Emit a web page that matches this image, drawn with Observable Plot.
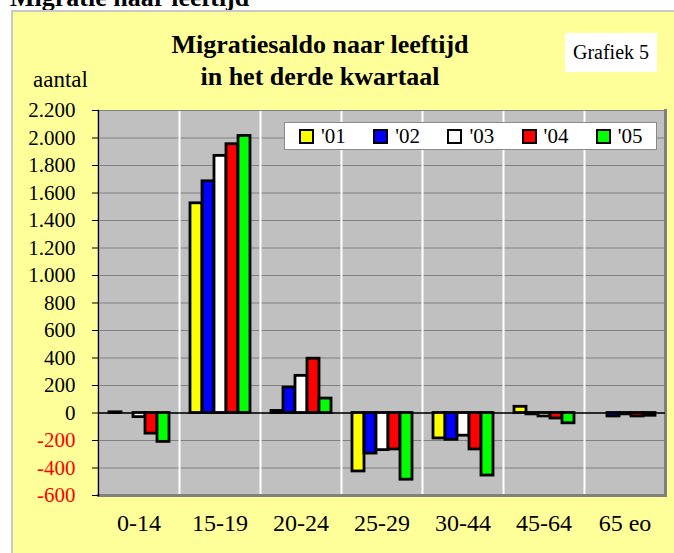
<!DOCTYPE html>
<html><head><meta charset="utf-8">
<script src="https://cdn.jsdelivr.net/npm/d3@7"></script>
<script src="https://cdn.jsdelivr.net/npm/@observablehq/plot@0.6"></script>
<style>
html,body{margin:0;padding:0;background:#fff;width:674px;height:553px;overflow:hidden;font-family:"Liberation Serif","Times New Roman",serif;color:#000;}
#wrap{position:relative;width:674px;height:553px;overflow:hidden;}
#top{position:absolute;left:10px;top:-15px;font-weight:bold;font-size:26px;line-height:26px;white-space:nowrap;}
#panel{position:absolute;left:11px;top:10px;width:700px;height:600px;background:#FFFF99;border:2px solid #c8c8c8;}
#chart{position:absolute;left:0;top:0;}
#title{position:absolute;left:0;width:640px;top:29px;text-align:center;font-weight:bold;font-size:26px;line-height:32px;}
#unit{position:absolute;left:33px;top:66px;font-size:23px;line-height:28px;}
#graf{position:absolute;left:565px;top:33px;width:92px;height:39px;background:#fff;font-size:20px;line-height:39px;text-align:center;}
#legend{position:absolute;left:284px;top:122px;width:371px;height:26px;background:#fff;border:1px solid #8a8a8a;display:flex;align-items:center;}
.item{width:75px;display:flex;align-items:center;padding-left:14px;box-sizing:border-box;font-size:21px;}
.sw{width:11px;height:11px;border:2px solid #000;margin-right:7px;}
</style></head>
<body>
<div id="wrap">
  <div id="top">Migratie naar leeftijd</div>
  <div id="panel"></div>
  <div id="chart"></div>
  <div id="title">Migratiesaldo naar leeftijd<br>in het derde kwartaal</div>
  <div id="unit">aantal</div>
  <div id="graf">Grafiek 5</div>
  <div id="legend"></div>
</div>
<script>
const categories = ["0-14","15-19","20-24","25-29","30-44","45-64","65 eo"];
const years = ["'01","'02","'03","'04","'05"];
const colors = ["#FFFF00","#0000FF","#FFFFFF","#FF0000","#00FF00"];
const v01 = [5, 1525, 15, -425, -185, 45, 0];
const v02 = [0, 1685, 185, -295, -195, -10, -25];
const v03 = [-30, 1870, 270, -270, -165, -25, -10];
const v04 = [-150, 1955, 395, -265, -265, -40, -25];
const v05 = [-210, 2015, 105, -485, -455, -75, -20];
const yTicks = [-600,-400,-200,0,200,400,600,800,1000,1200,1400,1600,1800,2000,2200];

const series = [v01, v02, v03, v04, v05];
const data = [];
series.forEach((vals, j) => vals.forEach((v, i) => data.push({cat: categories[i], year: years[j], value: v})));

const fmt = d3.formatLocale({decimal: ",", thousands: ".", grouping: [3], currency: ["", ""], minus: "-"}).format(",");

const chart = Plot.plot({
  width: 674, height: 553,
  marginTop: 110, marginBottom: 58, marginLeft: 98, marginRight: 9,
  style: {background: "transparent", fontFamily: "Liberation Serif, Times New Roman, serif", color: "black"},
  fx: {domain: categories, padding: 0, label: null},
  x: {domain: years, paddingInner: 0, paddingOuter: 0.62, axis: null},
  y: {domain: [-600, 2200], label: null},
  color: {domain: years, range: colors},
  marks: [
    Plot.frame({fill: "#C0C0C0"}),
    Plot.gridY(yTicks, {stroke: "#808080", strokeOpacity: 1}),
    Plot.frame({anchor: "left", stroke: "white", strokeWidth: 2}),
    Plot.frame({anchor: "top", stroke: "#808080"}),
    Plot.frame({anchor: "bottom", stroke: "#808080", strokeWidth: 3}),
    Plot.frame({anchor: "right", stroke: "#808080", strokeWidth: 3, facetAnchor: "right"}),
    Plot.ruleY([0], {stroke: "black", strokeWidth: 1.5}),
    Plot.barY(data, {fx: "cat", x: "year", y: "value", fill: "year", stroke: "black", strokeWidth: 2.8}),
    Plot.frame({anchor: "left", stroke: "black", strokeWidth: 1.5, facetAnchor: "left"}),
    Plot.axisY(yTicks.filter(d => d >= 0), {tickSize: 6, tickPadding: 17, fontSize: 21, tickFormat: fmt, label: null, stroke: "black"}),
    Plot.axisY(yTicks.filter(d => d < 0), {tickSize: 6, tickPadding: 17, fontSize: 21, tickFormat: fmt, label: null, fill: "red", stroke: "black"}),
    Plot.axisFx({anchor: "bottom", tickSize: 0, tickPadding: 18, fontSize: 24, label: null})
  ]
});
document.getElementById("chart").appendChild(chart);

const legend = document.getElementById("legend");
years.forEach((y, j) => {
  const it = document.createElement("div");
  it.className = "item";
  const sw = document.createElement("div");
  sw.className = "sw";
  sw.style.background = colors[j];
  it.appendChild(sw);
  it.appendChild(document.createTextNode(y));
  legend.appendChild(it);
});
</script>
</body></html>
